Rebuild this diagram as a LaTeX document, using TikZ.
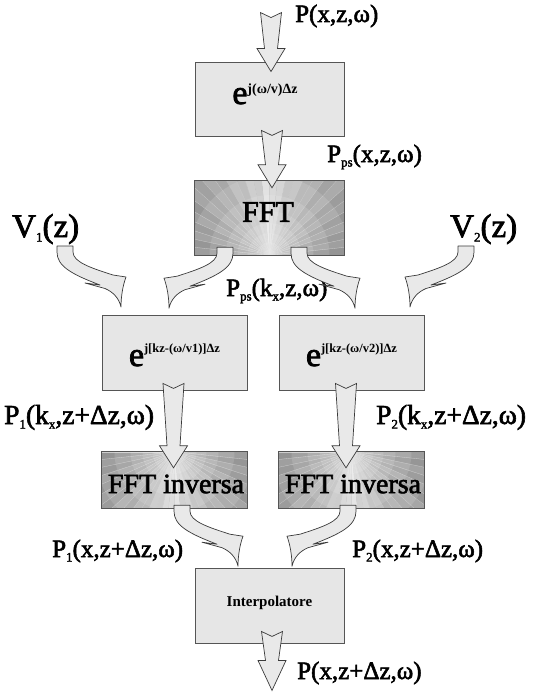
\documentclass[tikz,border=0pt]{standalone}
\usepackage{fontspec}
\setmainfont{Liberation Serif}
\newfontfamily\heavy{Liberation Serif}[FakeBold=2.2]
\usetikzlibrary{calc}

\definecolor{boxfill}{HTML}{E6E6E6}
\definecolor{boxline}{HTML}{555555}
\definecolor{arrowfill}{HTML}{E9E9E9}
\definecolor{arrowline}{HTML}{3A3A3A}

% small lowered index used in the signal names
\newcommand\sbs[1]{\raisebox{-4.5pt}{\fontsize{13}{13}\selectfont #1}}
% exponential with a bold exponent
\newcommand\expo[3]{{\heavy\fontsize{34}{34}\selectfont e}\raisebox{#1}{\fontsize{#2}{#2}\selectfont\bfseries #3}}

% straight hollow arrow with a notched tail: tail point, tip point, head length
\newcommand\blockarrow[3]{%
  \draw[blockarrowstyle] let \p1=#1, \p2=#2 in
    (\x1-10.5pt,\y1) -- (\x1,\y1-5pt) -- (\x1+10.5pt,\y1)
    -- (\x1+6.5pt,\y2+#3pt) -- (\x1+14pt,\y2+#3pt) -- (\x1,\y2)
    -- (\x1-14pt,\y2+#3pt) -- (\x1-6.5pt,\y2+#3pt) -- cycle;}

% bent arrow with a swept head: tail point, +1 bends right, -1 bends left
\newcommand\bentarrow[2]{%
  \begin{scope}[shift={#1}, xscale=#2]
    \draw[bentarrowstyle] (-8,0) -- (-8,6) .. controls (-8,20) and (6,28) .. (35,39)
      -- (20,37) -- (40,42.5) .. controls (48,46) and (54,52) .. (56,61)
      .. controls (56,50) and (58,39) .. (61,31) -- (48,29)
      .. controls (26,22) and (8,16) .. (8,6) -- (8,0) -- cycle;
  \end{scope}}

% box filled with grey rays spreading from one side
\newcommand\rayfill[3]{%
  \begin{scope}
    \clip (#1.south west) rectangle (#1.north east);
    \fill[white!55!black] (#1.south west) rectangle (#1.north east);
    \foreach \i in {0,...,29}{
      \pgfmathsetmacro\a{#3-90+6*\i}
      \pgfmathsetmacro\d{abs(\a+3-#3)/90}
      \pgfmathsetmacro\w{int(90-38*sqrt(\d)+4*mod(\i,2))}
      \fill[white!\w!black] (#1.#2) -- ($(#1.#2)+(\a:220pt)$) -- ($(#1.#2)+(\a+6:220pt)$) -- cycle;
      \draw[white!78!black, line width=0.3pt] (#1.#2) -- ($(#1.#2)+(\a:220pt)$);
    }
    \foreach \r in {80,60,44,32,22,13,6}{
      \fill[white, opacity=0.13] (#1.#2) circle (\r pt);
    }
  \end{scope}
  \draw[boxline, line width=0.9pt] (#1.south west) rectangle (#1.north east);}

\tikzset{
  plainbox/.style={draw=boxline, fill=boxfill, line width=0.9pt, inner sep=0pt},
  raybox/.style={inner sep=0pt},
  blockarrowstyle/.style={draw=arrowline, fill=arrowfill, line width=0.7pt, line join=miter},
  bentarrowstyle/.style={draw=arrowline, fill=arrowfill, line width=0.7pt, line join=round},
  lbl/.style={anchor=base west, inner sep=0pt, font=\heavy\fontsize{25}{25}\selectfont},
  midlbl/.style={lbl, font=\heavy\fontsize{27.5}{27.5}\selectfont},
  biglbl/.style={lbl, font=\heavy\fontsize{33}{33}\selectfont},
  boxtext/.style={inner sep=0pt},
}

\begin{document}
\begin{tikzpicture}[x=1pt,y=-1pt]
\useasboundingbox (0,0) rectangle (538,695);

% processing blocks
\node[plainbox, minimum width=149pt, minimum height=74pt] (b1) at (269.5,99) {};
\node[raybox,   minimum width=149pt, minimum height=74pt] (fft) at (269.5,218) {};
\node[plainbox, minimum width=145pt, minimum height=75pt] (e1) at (174.5,352.5) {};
\node[plainbox, minimum width=145pt, minimum height=75pt] (e2) at (351.5,352.5) {};
\node[raybox,   minimum width=145pt, minimum height=56pt] (if1) at (174.5,480) {};
\node[raybox,   minimum width=145pt, minimum height=56pt] (if2) at (351.5,480) {};
\node[plainbox, minimum width=149pt, minimum height=75pt] (ip) at (269.5,605.5) {};

\rayfill{fft}{south}{90}
\rayfill{if1}{north}{270}
\rayfill{if2}{north}{270}

% block contents
\node[boxtext, anchor=base] (b1t) at (265,104) {\expo{10pt}{14}{j(ω/v)Δz}};
\node[boxtext] (fftt) at (268,212) {\heavy\fontsize{30}{30}\selectfont FFT};
\node[boxtext, anchor=base] (e1t) at (174.5,366) {\expo{14pt}{12.5}{j[kz-(ω/v1)]Δz}};
\node[boxtext, anchor=base] (e2t) at (351.5,366) {\expo{14pt}{12.5}{j[kz-(ω/v2)]Δz}};
\node[boxtext] (if1t) at (176,484) {\heavy\fontsize{28}{28}\selectfont FFT inversa};
\node[boxtext] (if2t) at (353,484) {\heavy\fontsize{28}{28}\selectfont FFT inversa};
\node[boxtext] (ipt) at (269.5,603) {\fontsize{15}{15}\selectfont\bfseries Interpolatore};

% signal names
\node[lbl] (pin)  at (295,22)  {P(x,z,ω)};
\node[lbl] (pps)  at (327,162) {P\sbs{ps}(x,z,ω)};
\node[biglbl] (v1)   at (12,237)  {V\sbs{1}(z)};
\node[biglbl] (v2)   at (450,237) {V\sbs{2}(z)};
\node[lbl] (ppsk) at (226,296) {P\sbs{ps}(k\sbs{x},z,ω)};
\node[midlbl] (p1k)  at (4,424)   {P\sbs{1}(k\sbs{x},z+Δz,ω)};
\node[midlbl] (p2k)  at (376,424) {P\sbs{2}(k\sbs{x},z+Δz,ω)};
\node[lbl] (p1x)  at (52,557)  {P\sbs{1}(x,z+Δz,ω)};
\node[lbl] (p2x)  at (352,557) {P\sbs{2}(x,z+Δz,ω)};
\node[lbl] (pout) at (297,679) {P(x,z+Δz,ω)};

% straight arrows
\blockarrow{($(b1.north)+(1.5,-49)$)}{($(b1.north)+(1.5,10)$)}{23}
\blockarrow{($(b1.south)+(2.5,-6)$)}{($(fft.north)+(2.5,7)$)}{23}
\blockarrow{($(e1.south)+(-1,-7)$)}{($(if1.north)+(-1,16)$)}{22}
\blockarrow{($(e2.south)+(-5.5,-7)$)}{($(if2.north)+(-5.5,16)$)}{22}
\blockarrow{($(ip.south)+(2.5,-12)$)}{($(ip.south)+(2.5,47)$)}{30}

% bent arrows
\bentarrow{($(v1.base west)+(53,9)$)}{1}
\bentarrow{($(fft.south)+(-44.5,-8)$)}{-1}
\bentarrow{($(fft.south)+(29.5,-8)$)}{1}
\bentarrow{($(v2.base west)+(16,9)$)}{-1}
\bentarrow{($(if1.south)+(7.5,-3)$)}{1}
\bentarrow{($(if2.south)+(-3.5,-3)$)}{-1}
\end{tikzpicture}
\end{document}
